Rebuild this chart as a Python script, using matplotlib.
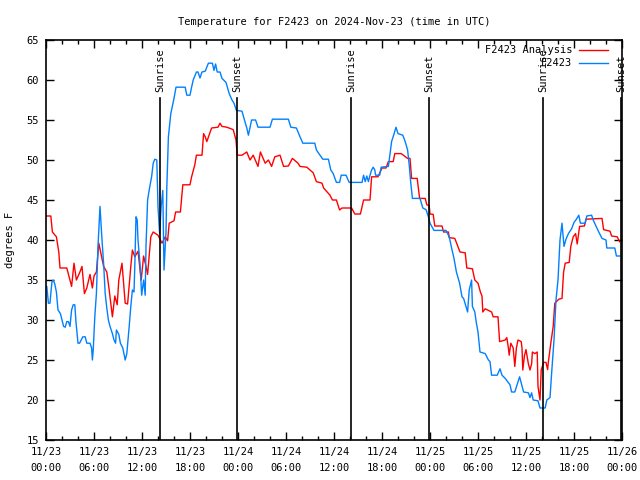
import numpy as np
import matplotlib
matplotlib.use('Agg')
import matplotlib.pyplot as plt

# hours since 2024-11-23 00:00 UTC
ana_hours = [0.0, 0.6, 0.8, 1.3, 1.6, 1.75, 2.6, 3.2, 3.5, 3.8, 4.2, 4.5, 4.8, 5.1, 5.5, 5.8,
             6.0, 6.3, 6.6, 7.2, 7.6, 7.9, 8.3, 8.6, 8.9, 9.1, 9.5, 9.9, 10.2, 10.6, 10.8, 11.1,
             11.5, 11.9, 12.2, 12.5, 12.7, 13.1, 13.4, 14.0, 14.5, 14.9, 15.2, 15.4, 16.0, 16.2,
             16.8, 17.1, 18.0, 18.2, 18.6, 18.8, 19.5, 19.7, 19.9, 20.1, 20.7, 21.5, 21.75, 22.0,
             22.6, 23.4, 23.75, 23.9, 24.5, 25.1, 25.5, 25.9, 26.5, 26.8, 27.4, 27.8, 28.2, 28.6,
             29.25, 29.7, 30.3, 30.8, 31.5, 31.75, 32.6, 33.4, 33.8, 34.5, 34.7, 35.5, 35.8, 36.3,
             36.7, 37.0, 38.2, 38.6, 39.3, 39.7, 40.5, 40.7, 41.5, 42.0, 42.5, 42.8, 43.4, 43.6,
             44.4, 45.2, 45.5, 45.7, 46.4, 46.7, 47.4, 47.6, 47.9, 48.0, 48.4, 48.6, 49.5, 49.7,
             50.3, 50.4, 51.1, 51.75, 52.4, 52.6, 53.3, 53.6, 54.0, 54.3, 54.5, 54.6, 54.9, 55.7,
             55.9, 56.5, 56.7, 57.4, 57.6, 57.8, 57.9, 58.1, 58.4, 58.6, 58.8, 59.0, 59.4, 59.5,
             59.6, 59.8, 60.0, 60.3, 60.5, 60.7, 60.8, 61.1, 61.4, 61.5, 61.75, 61.9, 62.2, 62.5,
             62.7, 62.8, 63.1, 63.4, 63.6, 64.1, 64.5, 64.7, 64.9, 65.4, 65.6, 65.9, 66.2, 66.4,
             66.7, 67.3, 67.5, 69.5, 69.7, 70.5, 70.7, 71.4, 71.7]
ana_temp = [43.0, 43.0, 41.0, 40.4, 38.5, 36.5, 36.5, 34.2, 37.1, 35.0, 35.9, 36.7, 33.3, 34.0, 35.7, 34.0,
            35.5, 36.0, 39.6, 36.7, 36.0, 33.75, 30.4, 33.0, 31.9, 35.0, 37.1, 32.1, 32.0, 36.7, 38.75, 37.9,
            38.6, 35.0, 38.0, 36.7, 35.7, 40.4, 41.0, 40.6, 39.6, 40.4, 39.9, 42.1, 42.4, 43.5,
            43.5, 46.9, 46.9, 47.9, 49.4, 50.6, 50.6, 53.3, 52.9, 52.3, 54.0, 54.1, 54.6, 54.2,
            54.1, 53.8, 52.5, 50.6, 50.6, 51.0, 50.0, 50.6, 49.2, 51.0, 49.6, 50.0, 49.2, 50.4,
            50.6, 49.2, 49.25, 50.2, 49.6, 49.2, 49.1, 48.4, 47.3, 47.1, 46.5, 45.6, 45.0, 45.0,
            43.75, 44.0, 44.0, 43.25, 43.25, 45.0, 45.0, 47.9, 47.9, 49.0, 49.0, 49.8, 49.8, 50.8,
            50.8, 50.2, 50.2, 47.7, 47.7, 45.2, 45.2, 44.4, 44.3, 43.25, 43.2, 41.75, 41.75, 41.0,
            41.0, 40.3, 40.2, 38.5, 38.4, 36.5, 36.4, 35.0, 34.6, 33.5, 33.0, 31.0, 31.4, 31.0,
            30.4, 30.4, 27.3, 27.5, 27.8, 26.5, 25.6, 27.1, 26.5, 24.2, 26.5, 27.5, 27.3, 26.5,
            23.75, 25.5, 26.3, 24.5, 23.75, 24.5, 26.0, 25.8, 26.0, 21.7, 20.0, 23.75, 24.7, 24.7,
            23.8, 24.8, 27.1, 29.2, 32.1, 32.6, 32.7, 36.0, 37.1, 37.2, 39.2, 40.4, 40.8, 39.5,
            41.7, 41.75, 42.6, 42.7, 41.3, 41.1, 40.5, 40.4, 39.8]

obs_hours = [0.0, 0.1, 0.3, 0.5, 0.6, 0.75, 0.9, 1.1, 1.3, 1.5, 1.8, 2.0, 2.2, 2.4, 2.6, 2.8,
             3.0, 3.2, 3.4, 3.6, 3.75, 4.0, 4.2, 4.6, 4.9, 5.1, 5.5, 5.7, 5.8, 5.9, 6.1, 6.3,
             6.5, 6.75, 7.0, 7.2, 7.4, 7.6, 7.8, 8.0, 8.3, 8.5, 8.7, 8.8, 9.1, 9.3, 9.6, 9.9,
             10.1, 10.4, 10.6, 10.8, 11.0, 11.1, 11.25, 11.4, 11.5, 11.75, 11.96, 12.2, 12.4, 12.5,
             12.7, 12.9, 13.2, 13.4, 13.6, 13.85, 14.0, 14.2, 14.4, 14.6, 14.75, 15.0, 15.1, 15.3,
             15.6, 16.0, 16.25, 17.4, 17.6, 18.0, 18.2, 18.4, 18.8, 19.0, 19.25, 19.5, 19.9, 20.3,
             20.8, 21.0, 21.2, 21.4, 21.75, 22.0, 22.5, 22.9, 23.25, 23.5, 23.8, 24.5, 24.75, 25.1,
             25.3, 25.7, 26.2, 26.5, 28.0, 28.3, 30.3, 30.6, 31.3, 31.75, 32.1, 33.6, 33.8, 34.4,
             34.6, 35.3, 35.6, 35.9, 36.3, 36.7, 36.9, 37.5, 37.9, 39.5, 39.7, 39.9, 40.1, 40.3,
             40.5, 40.7, 40.9, 41.1, 41.2, 41.7, 41.9, 42.8, 43.0, 43.2, 43.5, 43.75, 44.0, 44.6,
             44.9, 45.2, 45.4, 45.6, 45.8, 46.75, 47.1, 47.5, 47.8, 48.0, 48.5, 50.0, 50.4, 50.7,
             51.0, 51.3, 51.7, 52.0, 52.2, 52.5, 52.7, 52.9, 53.2, 53.3, 53.6, 53.8, 54.0, 54.25,
             54.9, 55.3, 55.5, 55.7, 56.4, 56.75, 57.0, 57.4, 58.0, 58.2, 58.6, 59.2, 59.7, 60.3,
             60.5, 60.7, 60.9, 61.5, 61.75, 62.4, 62.6, 63.0, 63.2, 63.5, 63.75, 64.0, 64.25, 64.5,
             64.6, 64.75, 65.0, 65.3, 65.7, 66.0, 66.3, 66.6, 66.8, 67.4, 67.6, 68.2, 68.4, 69.0,
             69.5, 70.0, 70.1, 71.1, 71.3, 71.75]
obs_temp = [34.2, 34.2, 32.1, 32.1, 33.3, 34.8, 35.0, 34.5, 33.5, 31.25, 30.8, 30.0, 29.2, 29.1, 29.8, 29.8,
            29.2, 31.25, 31.9, 31.9, 29.7, 27.1, 27.1, 27.9, 27.9, 27.1, 27.1, 26.5, 25.0, 26.2, 30.4, 33.3,
            39.2, 44.2, 40.0, 37.1, 33.3, 31.5, 30.0, 29.2, 28.3, 27.5, 27.1, 28.75, 28.2, 27.1, 26.5, 25.0,
            25.8, 29.2, 31.7, 33.75, 33.5, 36.7, 42.9, 42.5, 40.0, 37.0, 33.1, 35.0, 33.1, 39.2,
            45.0, 46.25, 47.9, 49.6, 50.1, 50.0, 44.2, 40.8, 44.2, 46.2, 36.25, 41.0, 46.5, 52.9,
            55.8, 57.7, 59.1, 59.1, 58.1, 58.1, 59.1, 60.0, 61.0, 61.0, 60.25, 61.0, 61.1, 62.1,
            62.1, 61.2, 62.0, 61.0, 61.0, 60.2, 59.7, 58.3, 57.5, 57.1, 56.2, 56.1, 55.2, 54.0,
            53.1, 55.0, 55.0, 54.1, 54.1, 55.1, 55.1, 54.1, 54.0, 52.9, 52.1, 52.1, 51.25, 50.4,
            50.1, 50.1, 48.75, 48.3, 47.2, 47.2, 48.1, 48.1, 47.2, 47.2, 48.1, 47.3, 48.0, 47.3,
            48.1, 48.75, 49.1, 48.75, 48.1, 48.1, 49.1, 49.2, 50.8, 52.3, 53.25, 54.1, 53.3, 53.1,
            52.3, 51.25, 49.4, 47.1, 45.2, 45.2, 44.0, 43.8, 42.9, 42.1, 41.2, 41.2, 40.4, 39.0,
            37.7, 36.0, 34.6, 32.9, 32.7, 31.7, 31.0, 33.75, 35.0, 31.7, 31.0, 29.6, 28.5, 26.0,
            25.8, 25.0, 24.8, 23.1, 23.1, 23.9, 23.1, 22.7, 21.9, 21.0, 21.0, 22.9, 21.0, 20.9,
            20.3, 20.9, 20.0, 19.9, 19.0, 19.0, 20.0, 20.3, 23.3, 27.5, 32.5, 35.0, 40.0, 42.1,
            41.0, 39.2, 40.1, 40.8, 41.4, 42.2, 42.6, 43.1, 42.1, 42.1, 43.0, 43.1, 42.5, 41.2,
            40.2, 40.0, 39.0, 39.0, 38.0, 38.0]

sun_hours = [14.25, 23.875, 38.15, 47.875, 62.1, 71.9]
sun_labels = ['Sunrise', 'Sunset', 'Sunrise', 'Sunset', 'Sunrise', 'Sunset']

tick_hours = list(range(0, 73, 6))
tick_labels = ['11/23\n00:00', '11/23\n06:00', '11/23\n12:00', '11/23\n18:00',
               '11/24\n00:00', '11/24\n06:00', '11/24\n12:00', '11/24\n18:00',
               '11/25\n00:00', '11/25\n06:00', '11/25\n12:00', '11/25\n18:00',
               '11/26\n00:00']

plt.rcParams['font.family'] = 'DejaVu Sans Mono'
plt.rcParams['font.size'] = 7

fig = plt.figure(figsize=(6.4, 4.8), dpi=100)
ax = fig.add_axes([46/640, 40/480, 576/640, 400/480])

ax.plot(ana_hours, ana_temp, color='#ff0000', lw=1.0, label='F2423 Analysis')
ax.plot(obs_hours, obs_temp, color='#0080ff', lw=1.0, label='F2423')

for h, lab in zip(sun_hours, sun_labels):
    ax.axvline(h, ymin=0, ymax=0.855, color='black', lw=1.2)
    ax.text(h, 0.87, lab, transform=ax.get_xaxis_transform(), rotation=90,
            ha='center', va='bottom', fontsize=7.5)

ax.set_xlim(0, 72)
ax.set_ylim(15, 65)
ax.set_xticks(tick_hours)
ax.set_xticklabels(tick_labels, linespacing=1.75)
ax.set_xticks(np.arange(0, 73, 2), minor=True)
ax.set_yticks(np.arange(15, 66, 5))
ax.tick_params(direction='in', top=True, right=True, length=6, width=1, labelsize=7.5, pad=5)
ax.tick_params(which='minor', direction='in', top=True, right=False, length=3, width=1)
for s in ax.spines.values():
    s.set_linewidth(1.2)

ax.set_title('Temperature for F2423 on 2024-Nov-23 (time in UTC)', fontsize=7.5, pad=11)
ax.set_ylabel('degrees F', fontsize=7.5, labelpad=8)

ax.legend(loc='upper right', bbox_to_anchor=(1 - 8/576, 1 + 1/400), frameon=False,
          markerfirst=False, handlelength=2.8, borderaxespad=0.2, labelspacing=0.3,
          fontsize=7.5, handletextpad=0.6)

fig.savefig('out.png', dpi=100)
